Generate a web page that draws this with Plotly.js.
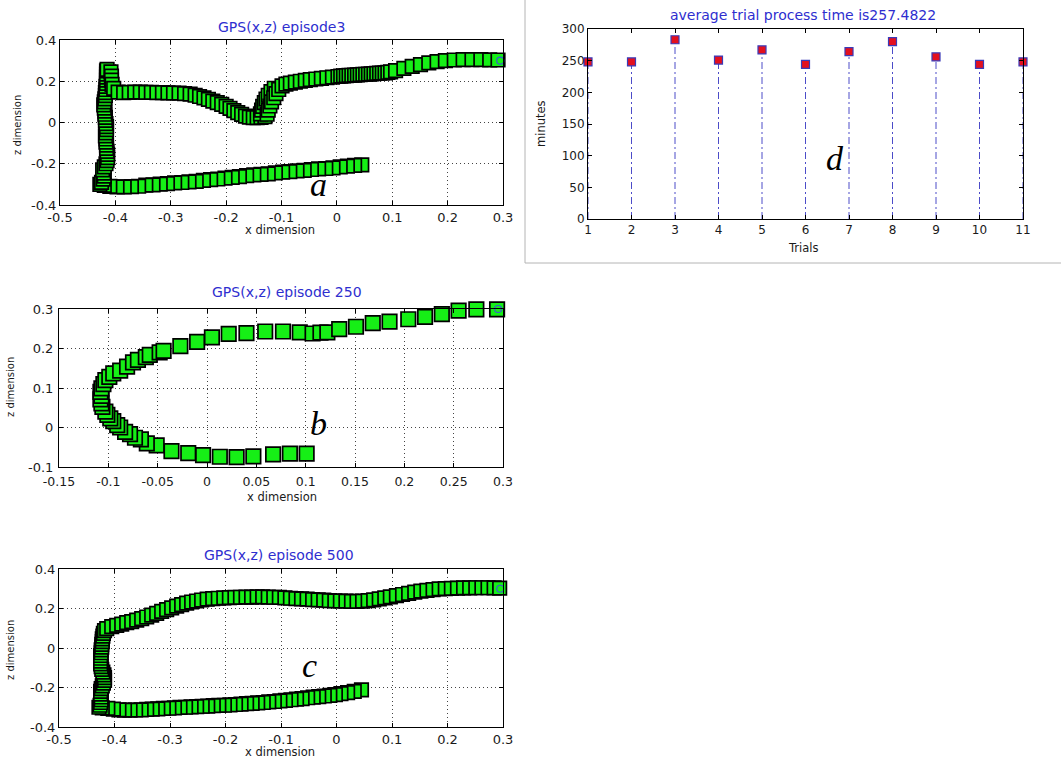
<!DOCTYPE html>
<html>
<head>
<meta charset="utf-8">
<script src="https://cdn.plot.ly/plotly-3.0.1.min.js"></script>
<style>
  html, body { margin: 0; padding: 0; background: #fff; }
  #chart { width: 1061px; height: 761px; }
</style>
</head>
<body>
<div id="chart"></div>
<script>
// ---------- GPS trajectory, episode 3 (x, z) ----------
const ep3X = [
  // lower leg, from the start point leftwards
  0.045, 0.032, 0.019, 0.006, -0.007, -0.020, -0.033, -0.046, -0.059, -0.072,
  -0.085, -0.098, -0.111, -0.124, -0.137, -0.150, -0.163, -0.176, -0.189, -0.202,
  -0.215, -0.228, -0.241, -0.254, -0.267, -0.280, -0.293, -0.306, -0.319, -0.332,
  -0.345, -0.358, -0.371, -0.384, -0.397, -0.410, -0.420, -0.428,
  // climb along the left wall
  -0.425, -0.422, -0.420, -0.421, -0.423, -0.420, -0.417, -0.415, -0.414, -0.414,
  -0.415, -0.416, -0.416, -0.417, -0.417, -0.418, -0.417, -0.416, -0.416, -0.417,
  -0.418, -0.418, -0.419, -0.419, -0.420, -0.421, -0.420, -0.419, -0.418, -0.418,
  -0.417, -0.417, -0.416, -0.416, -0.416, -0.416, -0.416, -0.415,
  -0.408, -0.407, -0.407, -0.406, -0.403,
  // upper leg
  -0.395, -0.385, -0.375, -0.365, -0.355, -0.345, -0.335, -0.325, -0.315, -0.305,
  -0.295, -0.285, -0.275, -0.265,
  -0.256, -0.248, -0.240, -0.232, -0.224, -0.216, -0.208, -0.200, -0.193, -0.186,
  -0.179, -0.172, -0.165, -0.158, -0.151, -0.144, -0.137, -0.130,
  -0.138, -0.136, -0.134, -0.131, -0.128, -0.124, -0.119, -0.113,
  -0.126, -0.124, -0.121, -0.118, -0.114, -0.110, -0.105, -0.099,
  -0.092, -0.084, -0.075, -0.066, -0.057, -0.048, -0.038, -0.028, -0.018, -0.008, 0.002,
  0.007, 0.012, 0.017, 0.022, 0.027, 0.032, 0.037, 0.042, 0.047, 0.052,
  0.057, 0.062, 0.067, 0.072, 0.077, 0.082, 0.087, 0.092, 0.097,
  0.106, 0.121, 0.136, 0.151, 0.166, 0.181, 0.196, 0.212, 0.228, 0.244,
  0.260, 0.276, 0.291
];
const ep3Z = [
  -0.205, -0.208, -0.212, -0.215, -0.220, -0.223, -0.225, -0.228, -0.232, -0.235,
  -0.238, -0.241, -0.244, -0.249, -0.252, -0.254, -0.258, -0.262, -0.266, -0.270,
  -0.274, -0.277, -0.281, -0.285, -0.288, -0.291, -0.293, -0.296, -0.299, -0.302,
  -0.304, -0.309, -0.311, -0.312, -0.312, -0.310, -0.305, -0.300,
  -0.290, -0.275, -0.260, -0.245, -0.230, -0.215, -0.200, -0.185, -0.170, -0.155,
  -0.140, -0.125, -0.110, -0.095, -0.080, -0.065, -0.050, -0.035, -0.020, -0.005,
  0.010, 0.025, 0.040, 0.055, 0.070, 0.085, 0.100, 0.115, 0.130, 0.145,
  0.160, 0.175, 0.190, 0.205, 0.220, 0.235, 0.250, 0.258,
  0.245, 0.225, 0.205, 0.185, 0.165,
  0.147, 0.145, 0.146, 0.147, 0.147, 0.146, 0.146, 0.145, 0.145, 0.144,
  0.143, 0.142, 0.140, 0.138,
  0.132, 0.126, 0.119, 0.112, 0.104, 0.096, 0.088, 0.078, 0.068, 0.058,
  0.048, 0.039, 0.031, 0.026, 0.024, 0.024, 0.025, 0.028,
  0.042, 0.060, 0.078, 0.096, 0.114, 0.132, 0.150, 0.166,
  0.040, 0.060, 0.080, 0.100, 0.120, 0.140, 0.160, 0.178,
  0.186, 0.191, 0.196, 0.200, 0.204, 0.208, 0.211, 0.214, 0.217, 0.220, 0.223,
  0.225, 0.226, 0.227, 0.228, 0.229, 0.230, 0.231, 0.232, 0.233, 0.234,
  0.235, 0.236, 0.237, 0.238, 0.239, 0.240, 0.241, 0.243, 0.245,
  0.252, 0.262, 0.272, 0.281, 0.289, 0.295, 0.300, 0.303, 0.305, 0.305,
  0.305, 0.304, 0.303
];

// ---------- GPS trajectory, episode 250 ----------
const ep250X = [
  0.101, 0.084, 0.067, 0.047, 0.030, 0.013, -0.004, -0.019, -0.036, -0.051,
  -0.061, -0.067, -0.073, -0.078, -0.083, -0.088, -0.091, -0.095, -0.098, -0.101,
  -0.103, -0.106, -0.107, -0.108, -0.107, -0.108, -0.107, -0.105, -0.103, -0.099,
  -0.095, -0.088, -0.081, -0.075, -0.070, -0.062, -0.058, -0.048, -0.044, -0.027,
  -0.010, 0.005, 0.022, 0.040, 0.059, 0.077, 0.094, 0.107, 0.115, 0.122,
  0.134, 0.151, 0.168, 0.185, 0.204, 0.221, 0.238, 0.255, 0.273, 0.294
];
const ep250Z = [
  -0.066, -0.066, -0.068, -0.073, -0.075, -0.074, -0.070, -0.065, -0.060, -0.045,
  -0.040, -0.030, -0.026, -0.017, -0.011, 0.000, 0.006, 0.016, 0.023, 0.032,
  0.040, 0.052, 0.061, 0.071, 0.080, 0.090, 0.099, 0.110, 0.120, 0.128,
  0.137, 0.144, 0.154, 0.165, 0.171, 0.178, 0.184, 0.190, 0.194, 0.206,
  0.217, 0.228, 0.237, 0.239, 0.243, 0.243, 0.241, 0.238, 0.240, 0.241,
  0.249, 0.255, 0.264, 0.268, 0.274, 0.280, 0.287, 0.296, 0.299, 0.299
];

// ---------- GPS trajectory, episode 500 ----------
const ep500X = [
  0.045, 0.032, 0.020, 0.008, -0.002, -0.012, -0.022, -0.032, -0.042, -0.052,
  -0.062, -0.072, -0.082, -0.092, -0.102, -0.112, -0.122, -0.132, -0.142, -0.152,
  -0.162, -0.172, -0.182, -0.192, -0.202, -0.212, -0.222, -0.232, -0.242, -0.252,
  -0.262, -0.272, -0.282, -0.292, -0.302, -0.312, -0.322, -0.332, -0.342, -0.352,
  -0.362, -0.372, -0.382, -0.392, -0.402, -0.412, -0.422, -0.428,
  -0.426, -0.425, -0.424, -0.424, -0.425, -0.425, -0.424, -0.422, -0.420, -0.418,
  -0.418, -0.419, -0.421, -0.423, -0.424, -0.425, -0.425, -0.425, -0.425, -0.424,
  -0.424, -0.423, -0.423, -0.422, -0.422, -0.421, -0.420, -0.418, -0.414,
  -0.405, -0.396, -0.387, -0.378, -0.369, -0.360, -0.351, -0.342, -0.333, -0.324,
  -0.315, -0.306, -0.297, -0.288, -0.279, -0.270, -0.261, -0.252, -0.243,
  -0.233, -0.223, -0.213, -0.203, -0.193, -0.183, -0.173, -0.163, -0.153, -0.143,
  -0.133, -0.123, -0.113, -0.103, -0.093, -0.083, -0.073, -0.063, -0.053, -0.043,
  -0.033, -0.023, -0.013, -0.003, 0.007, 0.017, 0.027, 0.037, 0.047, 0.057,
  0.067, 0.077, 0.087, 0.097,
  0.108, 0.119, 0.130, 0.141, 0.152, 0.163, 0.174, 0.185, 0.196, 0.207,
  0.218, 0.229, 0.240, 0.251, 0.262, 0.273, 0.284, 0.294
];
const ep500Z = [
  -0.212, -0.220, -0.226, -0.231, -0.236, -0.240, -0.243, -0.246, -0.249, -0.252,
  -0.256, -0.259, -0.262, -0.265, -0.268, -0.271, -0.273, -0.276, -0.278, -0.280,
  -0.282, -0.284, -0.286, -0.288, -0.290, -0.291, -0.292, -0.294, -0.295, -0.297,
  -0.298, -0.300, -0.301, -0.303, -0.305, -0.306, -0.308, -0.309, -0.311, -0.313,
  -0.314, -0.315, -0.315, -0.313, -0.309, -0.306, -0.303, -0.300,
  -0.290, -0.276, -0.262, -0.248, -0.234, -0.220, -0.206, -0.192, -0.178, -0.164,
  -0.150, -0.136, -0.122, -0.108, -0.094, -0.080, -0.066, -0.052, -0.038, -0.024,
  -0.010, 0.004, 0.018, 0.032, 0.046, 0.060, 0.074, 0.088, 0.098,
  0.108, 0.115, 0.121, 0.128, 0.134, 0.141, 0.149, 0.157, 0.166, 0.175,
  0.185, 0.194, 0.203, 0.212, 0.220, 0.227, 0.233, 0.238, 0.243,
  0.247, 0.250, 0.252, 0.254, 0.255, 0.256, 0.257, 0.258, 0.258, 0.259,
  0.259, 0.258, 0.257, 0.256, 0.254, 0.252, 0.250, 0.249, 0.247, 0.245,
  0.244, 0.242, 0.240, 0.239, 0.238, 0.237, 0.236, 0.236, 0.237, 0.240,
  0.244, 0.249, 0.254, 0.259,
  0.265, 0.271, 0.277, 0.283, 0.288, 0.292, 0.296, 0.299, 0.301, 0.302,
  0.303, 0.304, 0.304, 0.305, 0.305, 0.305, 0.304, 0.303
];

// goal point (small circle at the end of each path)
const goalX = [0.295];
const goalZ = [0.300];

// ---------- trial process times ----------
const trials = [1, 2, 3, 4, 5, 6, 7, 8, 9, 10, 11];
const trialMinutes = [248, 248, 283, 251, 267, 244, 264.3, 280, 256, 244, 248];

// ---------- tick labels ----------
const xTicksWide = [-0.5, -0.4, -0.3, -0.2, -0.1, 0, 0.1, 0.2, 0.3];
const xTickTextWide = ['-0.5', '-0.4', '-0.3', '-0.2', '-0.1', '0', '0.1', '0.2', '0.3'];
const zTicksWide = [-0.4, -0.2, 0, 0.2, 0.4];
const zTickTextWide = ['-0.4', '-0.2', '0', '0.2', '0.4'];
const xTicksMid = [-0.15, -0.1, -0.05, 0, 0.05, 0.1, 0.15, 0.2, 0.25, 0.3];
const xTickTextMid = ['-0.15', '-0.1', '-0.05', '0', '0.05', '0.1', '0.15', '0.2', '0.25', '0.3'];
const zTicksMid = [-0.1, 0, 0.1, 0.2, 0.3];
const zTickTextMid = ['-0.1', '0', '0.1', '0.2', '0.3'];
const minuteTicks = [0, 50, 100, 150, 200, 250, 300];

// ---------- page geometry ----------
const W = 1061, H = 761;
const fx = v => v / W;          // pixel column -> paper x
const fy = v => 1 - v / H;      // pixel row -> paper y

const boxA = { l: 60, r: 503, t: 40, b: 205 };
const boxB = { l: 59, r: 503, t: 309, b: 467 };
const boxC = { l: 59, r: 503, t: 569, b: 727 };
const boxD = { l: 588, r: 1023, t: 29, b: 219 };

const FONT = 'DejaVu Sans, Liberation Sans, Arial, sans-serif';
const TITLE_BLUE = '#2e2ecf';
const PATH_GREEN = '#16ef16';

function axisBase(domain, range, tickvals, ticktext, grid, size) {
  return {
    domain: domain, range: range, autorange: false,
    tickmode: 'array', tickvals: tickvals, ticktext: ticktext,
    ticks: 'inside', ticklen: 4, tickwidth: 1, tickcolor: '#000',
    showline: true, linecolor: '#000', linewidth: 1, mirror: 'ticks',
    showgrid: grid, gridcolor: '#444', gridwidth: 1, griddash: '1px,3px',
    zeroline: false, fixedrange: true,
    tickfont: { family: FONT, size: size, color: '#1a1a1a' }
  };
}

function pathTrace(x, z, xa, ya, size) {
  return {
    type: 'scatter', mode: 'markers', x: x, y: z, xaxis: xa, yaxis: ya,
    cliponaxis: false, hoverinfo: 'skip',
    marker: { symbol: 'square', size: size, color: PATH_GREEN,
              line: { color: '#000', width: 1.7 } }
  };
}
function goalTrace(xa, ya) {
  return {
    type: 'scatter', mode: 'markers', x: goalX, y: goalZ, xaxis: xa, yaxis: ya,
    cliponaxis: false, hoverinfo: 'skip',
    marker: { symbol: 'circle-open', size: 7, color: '#3a5ad0', line: { width: 1.2 } }
  };
}

// stem lines for the trial plot, built from the trial values
const stemX = [], stemY = [];
trials.forEach((t, i) => { stemX.push(t, t, null); stemY.push(0, trialMinutes[i], null); });

const data = [
  pathTrace(ep3X, ep3Z, 'x', 'y', 13.5), goalTrace('x', 'y'),
  pathTrace(ep250X, ep250Z, 'x2', 'y2', 14.5), goalTrace('x2', 'y2'),
  pathTrace(ep500X, ep500Z, 'x3', 'y3', 13.5), goalTrace('x3', 'y3'),
  {
    type: 'scatter', mode: 'lines', x: stemX, y: stemY, xaxis: 'x4', yaxis: 'y4',
    hoverinfo: 'skip', cliponaxis: false,
    line: { color: '#4c4cc8', width: 1, dash: '7px,3px,2px,3px' }
  },
  {
    type: 'scatter', mode: 'markers', x: trials, y: trialMinutes, xaxis: 'x4', yaxis: 'y4',
    cliponaxis: false, hoverinfo: 'skip',
    marker: { symbol: 'square', size: 8, color: '#e3101e', line: { color: '#3a3ab8', width: 1.2 } }
  }
];

function text(t, x, y, size, color, opts) {
  return Object.assign({
    text: t, xref: 'paper', yref: 'paper', x: fx(x), y: fy(y),
    xanchor: 'center', yanchor: 'middle', showarrow: false,
    font: { family: FONT, size: size, color: color }
  }, opts || {});
}
const SERIF = 'Liberation Serif, Times New Roman, serif';
function letter(t, x, y) {
  return text('<i>' + t + '</i>', x, y, 34, '#000', { font: { family: SERIF, size: 34, color: '#000' } });
}

const annotations = [
  text('GPS(x,z) episode3', 281, 27, 14, TITLE_BLUE),
  text('GPS(x,z) episode 250', 287, 292, 14, TITLE_BLUE),
  text('GPS(x,z) episode 500', 279, 555, 14, TITLE_BLUE),
  text('average trial process time is257.4822', 803, 15, 14, TITLE_BLUE),
  text('x dimension', 280, 230, 11.5, '#1a1a1a'),
  text('x dimension', 282, 497, 11.5, '#1a1a1a'),
  text('x dimension', 280, 752, 11.5, '#1a1a1a'),
  text('z dimension', 18, 125, 10, '#1a1a1a', { textangle: -90 }),
  text('z dimension', 10, 387, 10, '#1a1a1a', { textangle: -90 }),
  text('z dimension', 10, 650, 10, '#1a1a1a', { textangle: -90 }),
  text('Trials', 803, 248, 11.5, '#1a1a1a'),
  text('minutes', 541, 124, 11.5, '#1a1a1a', { textangle: -90 }),
  letter('a', 318, 185),
  letter('b', 318, 423),
  letter('c', 309, 665),
  letter('d', 835, 158)
];

const layout = {
  width: W, height: H,
  margin: { l: 0, r: 0, t: 0, b: 0 },
  paper_bgcolor: '#fff', plot_bgcolor: '#fff',
  showlegend: false,
  xaxis:  axisBase([fx(boxA.l), fx(boxA.r)], [-0.5, 0.3], xTicksWide, xTickTextWide, true, 13),
  yaxis:  axisBase([fy(boxA.b), fy(boxA.t)], [-0.4, 0.4], zTicksWide, zTickTextWide, true, 13),
  xaxis2: axisBase([fx(boxB.l), fx(boxB.r)], [-0.15, 0.3], xTicksMid, xTickTextMid, true, 12.5),
  yaxis2: axisBase([fy(boxB.b), fy(boxB.t)], [-0.1, 0.3], zTicksMid, zTickTextMid, true, 13),
  xaxis3: axisBase([fx(boxC.l), fx(boxC.r)], [-0.5, 0.3], xTicksWide, xTickTextWide, true, 13),
  yaxis3: axisBase([fy(boxC.b), fy(boxC.t)], [-0.4, 0.4], zTicksWide, zTickTextWide, true, 13),
  xaxis4: axisBase([fx(boxD.l), fx(boxD.r)], [1, 11], trials, trials.map(String), false, 12),
  yaxis4: axisBase([fy(boxD.b), fy(boxD.t)], [0, 300], minuteTicks, minuteTicks.map(String), false, 12),
  annotations: annotations,
  shapes: [{
    type: 'rect', xref: 'paper', yref: 'paper',
    x0: fx(525), x1: fx(1070), y0: fy(263), y1: fy(-10),
    line: { color: '#b4b4b4', width: 1 }, fillcolor: 'rgba(0,0,0,0)', layer: 'below'
  }]
};
layout.xaxis.anchor = 'y';   layout.yaxis.anchor = 'x';
layout.xaxis2.anchor = 'y2'; layout.yaxis2.anchor = 'x2';
layout.xaxis3.anchor = 'y3'; layout.yaxis3.anchor = 'x3';
layout.xaxis4.anchor = 'y4'; layout.yaxis4.anchor = 'x4';
// keep the lowest z label of the middle panel clear of the first x label
layout.xaxis2.ticklabelstandoff = 3;
layout.yaxis2.ticklabelstandoff = 2;

Plotly.newPlot('chart', data, layout, { displayModeBar: false, staticPlot: true });
</script>
</body>
</html>
